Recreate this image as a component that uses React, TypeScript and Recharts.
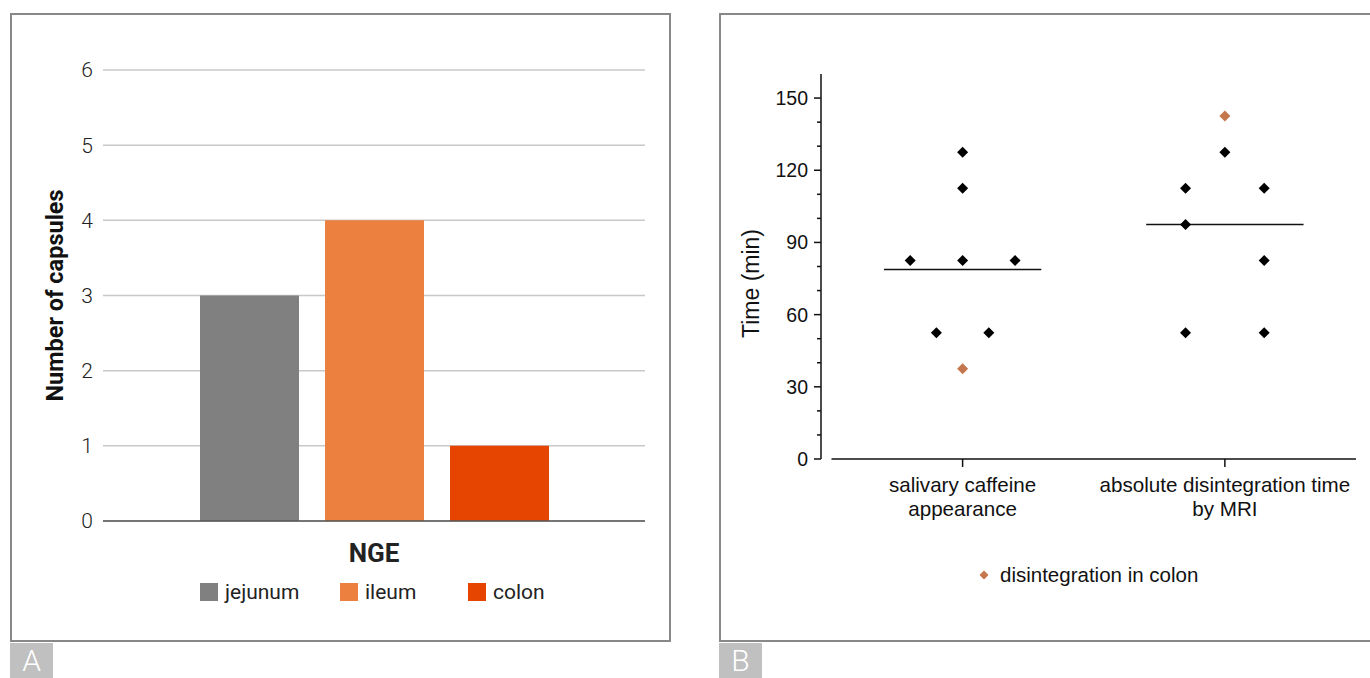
import { BarChart, Bar, XAxis, YAxis, CartesianGrid, ScatterChart, Scatter, ReferenceLine, Label } from 'recharts'

// panel A: capsules by site of disintegration
const sites = ['jejunum', 'ileum', 'colon']
const capsuleCounts = [3, 4, 1]
const siteColors = ['#808080', '#eb803f', '#e54500']
const countTicks = [0, 1, 2, 3, 4, 5, 6]
const groupName = 'NGE'

// panel B: times per method
const methods = ['salivary caffeine\nappearance', 'absolute disintegration time\nby MRI']
const smallIntestinePoints = [
  { x: 0.8, y: 82.5 }, { x: 1, y: 127.5 }, { x: 1, y: 112.5 }, { x: 1, y: 82.5 },
  { x: 1.2, y: 82.5 }, { x: 0.9, y: 52.5 }, { x: 1.1, y: 52.5 },
  { x: 1.85, y: 112.5 }, { x: 1.85, y: 97.5 }, { x: 1.85, y: 52.5 }, { x: 2, y: 127.5 },
  { x: 2.15, y: 112.5 }, { x: 2.15, y: 82.5 }, { x: 2.15, y: 52.5 },
]
const colonPoints = [{ x: 1, y: 37.5 }, { x: 2, y: 142.5 }]
const meanTimes = [78.75, 97.5]
const timeTicks = [0, 10, 20, 30, 40, 50, 60, 70, 80, 90, 100, 110, 120, 130, 140, 150]

const barRow = [{ name: groupName, ...Object.fromEntries(sites.map((s, i) => [s, capsuleCounts[i]])) }]

const FONT_A = 'Roboto, "Noto Sans", sans-serif'
const FONT_B = '"Liberation Sans", Arial, sans-serif'
const COLON_COLOR = '#c4774c'

const Diamond = (props: any) => {
  const { cx, cy, fill } = props
  const r = props.r ?? 5.5
  return <polygon points={`${cx},${cy - r} ${cx + r},${cy} ${cx},${cy + r} ${cx - r},${cy}`} fill={fill} />
}

const TimeTick = ({ x, y, payload }: any) => {
  const major = payload.value % 30 === 0
  return (
    <g>
      <line x1={x} x2={x - (major ? 7 : 4)} y1={y} y2={y} stroke="#111" strokeWidth={1.5} />
      {major && (
        <text x={x - 13} y={y} dy="0.36em" textAnchor="end" fontSize={19.5} fill="#111" fontFamily={FONT_B}>
          {payload.value}
        </text>
      )}
    </g>
  )
}

const MethodTick = ({ x, y, payload }: any) => {
  const lines = methods[payload.value - 1].split('\n')
  return (
    <text x={x} y={y} textAnchor="middle" fontSize={20.6} fill="#111" fontFamily={FONT_B}>
      {lines.map((l, i) => (
        <tspan key={i} x={x} dy={i === 0 ? 25 : 24}>{l}</tspan>
      ))}
    </text>
  )
}

const TimeLabel = ({ viewBox }: any) => {
  const cx = viewBox.x - 10
  const cy = viewBox.y + viewBox.height / 2 + 17
  return (
    <text x={cx} y={cy} transform={`rotate(-90, ${cx}, ${cy})`} textAnchor="middle" dominantBaseline="central"
      fontSize={23} fill="#111" fontFamily={FONT_B}>
      Time (min)
    </text>
  )
}

const panelLetter = (letter: string, left: number) => (
  <div style={{
    position: 'absolute', left, top: 643, width: 43, height: 35, background: '#c0c0c0', overflow: 'hidden',
    color: '#fff', fontFamily: FONT_A, fontWeight: 300, fontSize: 30, lineHeight: '36px', textAlign: 'center',
  }}>{letter}</div>
)

export default function App() {
  return (
    <div style={{ position: 'absolute', left: 0, top: 0, width: 1370, height: 678, background: '#fff', overflow: 'hidden' }}>
      {/* panel A */}
      <div style={{ position: 'absolute', left: 10, top: 13, width: 661, height: 629, border: '2px solid #888', boxSizing: 'border-box' }} />
      <div style={{ position: 'absolute', left: 0, top: 0 }}>
        <BarChart width={680} height={641} data={barRow} margin={{ top: 70, right: 35, left: 43, bottom: 70 }}
          barSize={99} barGap={26}>
          <CartesianGrid vertical={false} stroke="#c8c8c8" strokeWidth={1.5} />
          <XAxis dataKey="name" tick={false} tickLine={false} axisLine={{ stroke: '#555', strokeWidth: 1.5 }} height={50}>
            <Label value={groupName} position="insideBottom" offset={9}
              style={{ fontFamily: FONT_A, fontWeight: 700, fontSize: 26, fill: '#222' }} />
          </XAxis>
          <YAxis width={60} domain={[0, 6]} ticks={countTicks} tickLine={false} axisLine={false} tickMargin={4}
            tick={{ fontSize: 21, fill: '#222', fontFamily: FONT_A, fontWeight: 300 }}>
            <Label value="Number of capsules" angle={-90} position="insideLeft" offset={12}
              style={{ textAnchor: 'middle', fontFamily: FONT_A, fontWeight: 700, fontSize: 23.5, fill: '#111' }} />
          </YAxis>
          {sites.map((s, i) => (
            <Bar key={s} dataKey={s} fill={siteColors[i]} isAnimationActive={false} />
          ))}
        </BarChart>
      </div>
      <div style={{ position: 'absolute', left: 200, top: 579, display: 'grid', gridTemplateColumns: '140px 128px auto', fontFamily: FONT_A, fontSize: 21, color: '#222' }}>
        {sites.map((s, i) => (
          <div key={s} style={{ display: 'flex', alignItems: 'center', height: 26 }}>
            <span style={{ width: 18, height: 18, background: siteColors[i], marginRight: 7, display: 'inline-block' }} />
            {s}
          </div>
        ))}
      </div>
      {panelLetter('A', 10)}

      {/* panel B */}
      <div style={{ position: 'absolute', left: 719, top: 13, width: 660, height: 629, border: '2px solid #888', boxSizing: 'border-box' }} />
      <div style={{ position: 'absolute', left: 700, top: 0 }}>
        <ScatterChart width={670} height={641} margin={{ top: 74, right: 14, left: 61, bottom: 102 }}>
          <XAxis type="number" dataKey="x" domain={[0.46, 2.5]} ticks={[1, 2]} allowDataOverflow
            axisLine={false} tickLine={{ stroke: '#111', strokeWidth: 1.5 }} tickSize={8} tickMargin={0}
            height={80} tick={<MethodTick />} />
          <YAxis type="number" dataKey="y" domain={[0, 160]} ticks={timeTicks} allowDataOverflow width={60}
            axisLine={{ stroke: '#111', strokeWidth: 1.5 }} tickLine={false} tickSize={0} tickMargin={0}
            tick={<TimeTick />}>
            <Label content={<TimeLabel />} />
          </YAxis>
          <ReferenceLine segment={[{ x: 0.5, y: 0 }, { x: 2.5, y: 0 }]} stroke="#111" strokeWidth={1.5} />
          {meanTimes.map((m, i) => (
            <ReferenceLine key={i} segment={[{ x: i + 1 - 0.3, y: m }, { x: i + 1 + 0.3, y: m }]} stroke="#111" strokeWidth={1.5} />
          ))}
          <Scatter data={smallIntestinePoints} fill="#000" shape={<Diamond />} isAnimationActive={false} />
          <Scatter data={colonPoints} fill={COLON_COLOR} shape={<Diamond />} isAnimationActive={false} />
        </ScatterChart>
      </div>
      <div style={{ position: 'absolute', left: 977, top: 562, display: 'flex', alignItems: 'center', fontFamily: FONT_B, fontSize: 20.5, color: '#111', height: 26 }}>
        <svg width={14} height={14} style={{ marginRight: 9 }}>
          <Diamond cx={7} cy={7} r={4.5} fill={COLON_COLOR} />
        </svg>
        disintegration in colon
      </div>
      {panelLetter('B', 719)}
    </div>
  )
}
